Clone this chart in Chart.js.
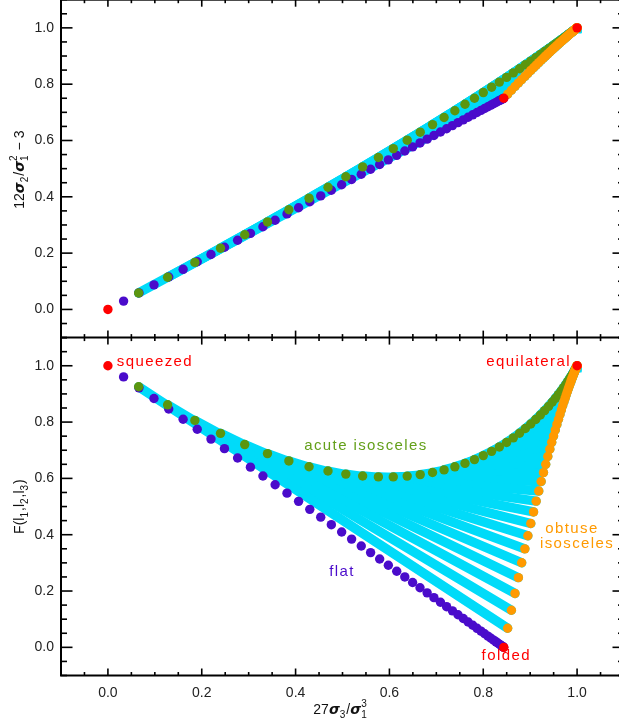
<!DOCTYPE html>
<html><head><meta charset="utf-8">
<script src="https://cdn.jsdelivr.net/npm/chart.js@4.4.1/dist/chart.umd.min.js"></script>
<style>
html,body{margin:0;padding:0;overflow:hidden;background:#fff;width:619px;height:724px}
#wrap{position:absolute;left:0;top:-5px;width:632px;height:730px}
</style>
</head><body><div id="wrap"><canvas id="c" width="632" height="730"></canvas></div>
<script>
// ---- tick labels ----
const xTickLabels = [0.0, 0.2, 0.4, 0.6, 0.8, 1.0];
const yTickLabels = [0.0, 0.2, 0.4, 0.6, 0.8, 1.0];

// ---- flat triangles (purple): x, top-panel y, bottom-panel F ----
const flatX = [0, 0.0334, 0.0662, 0.0982, 0.1296, 0.1603, 0.1904, 0.2197, 0.2484, 0.2764, 0.3038, 0.3304, 0.3564, 0.3817, 0.4064, 0.4303, 0.4536, 0.4762, 0.4982, 0.5194, 0.54, 0.5599, 0.5792, 0.5977, 0.6156, 0.6328, 0.6494, 0.6652, 0.6804, 0.6949, 0.7088, 0.7219, 0.7344, 0.7462, 0.7574, 0.7678, 0.7776, 0.7867, 0.7952, 0.8029, 0.81, 0.8164, 0.8222, 0.8272, 0.8316, 0.8353, 0.8384, 0.8407, 0.8424, 0.8434, 0.8438];
const flatY = [0, 0.0297, 0.0588, 0.0873, 0.1152, 0.1425, 0.1692, 0.1953, 0.2208, 0.2457, 0.27, 0.2937, 0.3168, 0.3393, 0.3612, 0.3825, 0.4032, 0.4233, 0.4428, 0.4617, 0.48, 0.4977, 0.5148, 0.5313, 0.5472, 0.5625, 0.5772, 0.5913, 0.6048, 0.6177, 0.63, 0.6417, 0.6528, 0.6633, 0.6732, 0.6825, 0.6912, 0.6993, 0.7068, 0.7137, 0.72, 0.7257, 0.7308, 0.7353, 0.7392, 0.7425, 0.7452, 0.7473, 0.7488, 0.7497, 0.75];
const flatF = [1, 0.9604, 0.9216, 0.8836, 0.8464, 0.81, 0.7744, 0.7396, 0.7056, 0.6724, 0.64, 0.6084, 0.5776, 0.5476, 0.5184, 0.49, 0.4624, 0.4356, 0.4096, 0.3844, 0.36, 0.3364, 0.3136, 0.2916, 0.2704, 0.25, 0.2304, 0.2116, 0.1936, 0.1764, 0.16, 0.1444, 0.1296, 0.1156, 0.1024, 0.09, 0.0784, 0.0676, 0.0576, 0.0484, 0.04, 0.0324, 0.0256, 0.0196, 0.0144, 0.01, 0.0064, 0.0036, 0.0016, 0.0004, 0];

// ---- acute isosceles (green) ----
const acuteX = [0, 0.0655, 0.1272, 0.1853, 0.24, 0.2916, 0.3401, 0.3857, 0.4287, 0.4691, 0.5071, 0.5429, 0.5765, 0.6082, 0.6379, 0.6657, 0.6919, 0.7165, 0.7395, 0.7611, 0.7813, 0.8001, 0.8178, 0.8343, 0.8497, 0.864, 0.8773, 0.8897, 0.9012, 0.9119, 0.9217, 0.9308, 0.9392, 0.9468, 0.9538, 0.9602, 0.966, 0.9713, 0.976, 0.9802, 0.984, 0.9873, 0.9901, 0.9926, 0.9947, 0.9964, 0.9977, 0.9987, 0.9995, 0.9999, 1];
const acuteY = [0, 0.0585, 0.1142, 0.1671, 0.2175, 0.2653, 0.3108, 0.354, 0.3951, 0.4341, 0.4711, 0.5062, 0.5395, 0.5712, 0.6011, 0.6295, 0.6564, 0.6818, 0.7058, 0.7286, 0.75, 0.7702, 0.7893, 0.8073, 0.8241, 0.84, 0.8549, 0.8688, 0.8818, 0.894, 0.9053, 0.9159, 0.9256, 0.9347, 0.943, 0.9506, 0.9576, 0.964, 0.9698, 0.975, 0.9796, 0.9837, 0.9873, 0.9904, 0.9931, 0.9952, 0.997, 0.9983, 0.9993, 0.9998, 1];
const acuteF = [1, 0.9253, 0.8613, 0.8059, 0.76, 0.7201, 0.688, 0.662, 0.6415, 0.6261, 0.6153, 0.6085, 0.6053, 0.6053, 0.6081, 0.6134, 0.6208, 0.6301, 0.6411, 0.6533, 0.6667, 0.681, 0.6961, 0.7117, 0.7277, 0.744, 0.7603, 0.777, 0.7932, 0.8094, 0.8253, 0.8406, 0.8557, 0.8703, 0.8842, 0.8976, 0.9102, 0.9222, 0.9334, 0.9438, 0.9533, 0.9621, 0.9699, 0.9769, 0.983, 0.9882, 0.9924, 0.9956, 0.998, 0.9995, 1];

// ---- obtuse isosceles (orange) ----
const obtuseX = [0.8438, 0.852, 0.86, 0.8676, 0.8749, 0.8819, 0.8887, 0.8951, 0.9013, 0.9072, 0.9128, 0.9183, 0.9234, 0.9284, 0.9331, 0.9376, 0.9419, 0.9459, 0.9498, 0.9535, 0.957, 0.9604, 0.9635, 0.9665, 0.9693, 0.972, 0.9745, 0.9769, 0.9791, 0.9812, 0.9832, 0.985, 0.9867, 0.9883, 0.9897, 0.9911, 0.9923, 0.9935, 0.9945, 0.9954, 0.9963, 0.997, 0.9977, 0.9982, 0.9987, 0.9991, 0.9994, 0.9997, 0.9999, 1.0, 1];
const obtuseY = [0.75, 0.7646, 0.7786, 0.7918, 0.8044, 0.8163, 0.8277, 0.8385, 0.8488, 0.8585, 0.8678, 0.8766, 0.8849, 0.8928, 0.9003, 0.9074, 0.9141, 0.9205, 0.9265, 0.9321, 0.9375, 0.9426, 0.9473, 0.9518, 0.9561, 0.96, 0.9637, 0.9672, 0.9705, 0.9735, 0.9763, 0.979, 0.9814, 0.9837, 0.9857, 0.9877, 0.9894, 0.991, 0.9924, 0.9937, 0.9949, 0.9959, 0.9968, 0.9976, 0.9983, 0.9988, 0.9992, 0.9996, 0.9998, 1.0, 1];
const obtuseF = [0, 0.0678, 0.1316, 0.1914, 0.2475, 0.3003, 0.3498, 0.3962, 0.4399, 0.4809, 0.5192, 0.5551, 0.5889, 0.6205, 0.65, 0.6778, 0.7038, 0.7281, 0.7507, 0.772, 0.7917, 0.8101, 0.8273, 0.8433, 0.8585, 0.872, 0.8848, 0.8968, 0.9077, 0.9179, 0.9271, 0.9357, 0.9436, 0.9508, 0.9574, 0.9634, 0.9688, 0.9737, 0.9781, 0.9821, 0.9855, 0.9885, 0.991, 0.9933, 0.9952, 0.9967, 0.9979, 0.9988, 0.9995, 0.9999, 1];

// ---- limiting configurations (red): squeezed, folded, equilateral ----
const cornerX = [0, 0.84375, 1];
const cornerY = [0, 0.75, 1];
const cornerF = [1, 0, 1];

// ---- styling ----
const COL = { purple: '#4a0bcb', cyan: '#00dbf9', green: '#5b960f', orange: '#ff9a00', red: '#ff0000' };
const R = 4.7;
const FONT = '"Liberation Sans", Arial, sans-serif';

function pts(xs, ys, from, to) {
  const a = [];
  for (let i = from; i <= to; i++) a.push({ x: xs[i], y: ys[i] });
  return a;
}

const datasets = [];
const panels = [
  { id: 'yTop', fy: flatY, ay: acuteY, oy: obtuseY, cy: cornerY },
  { id: 'yBot', fy: flatF, ay: acuteF, oy: obtuseF, cy: cornerF }
];
for (const p of panels) {
  for (let i = 1; i <= 49; i++) {
    datasets.push({
      yAxisID: p.id, showLine: true, order: 4,
      data: [{ x: acuteX[i], y: p.ay[i] }, { x: obtuseX[i], y: p.oy[i] }],
      borderColor: COL.cyan, borderWidth: 2 * R, borderCapStyle: 'round',
      pointRadius: 0
    });
  }
  const dot = (data, color, order) => ({
    yAxisID: p.id, order, data, showLine: false,
    backgroundColor: color, borderColor: color, pointBackgroundColor: color,
    pointBorderWidth: 0, pointRadius: R
  });
  datasets.push(dot(pts(flatX, p.fy, 1, 49), COL.purple, 3));
  datasets.push(dot(pts(acuteX, p.ay, 1, 49), COL.green, 2));
  datasets.push(dot(pts(obtuseX, p.oy, 1, 49), COL.orange, 1));
  datasets.push(dot(pts(cornerX, p.cy, 0, 2), COL.red, 0));
}

const annotations = [
  { text: 'squeezed', x: 0.019, y: 1.015, color: COL.red, align: 'left' },
  { text: 'equilateral', x: 0.987, y: 1.015, color: COL.red, align: 'right' },
  { text: 'acute isosceles', x: 0.55, y: 0.717, color: '#64a01a', align: 'center' },
  { text: 'flat', x: 0.499, y: 0.267, color: COL.purple, align: 'center' },
  { text: 'obtuse', x: 0.989, y: 0.42, color: COL.orange, align: 'center' },
  { text: 'isosceles', x: 1.0, y: 0.366, color: COL.orange, align: 'center' },
  { text: 'folded', x: 0.849, y: -0.031, color: COL.red, align: 'center' }
];

function drawRich(ctx, parts, cx, cy, rot) {
  const base = '14px ' + FONT, sig = 'italic bold 14px "DejaVu Sans", sans-serif', small = '10px ' + FONT;
  const widths = parts.map(pt => {
    if (pt.stack) { ctx.font = small; return Math.max(ctx.measureText(pt.stack[0]).width, ctx.measureText(pt.stack[1]).width) + 1; }
    ctx.font = pt.k === 'sig' ? sig : (pt.k === 'sub' || pt.k === 'sup') ? small : base;
    return ctx.measureText(pt.t).width + (pt.k === 'sub' ? 1 : 0);
  });
  const total = widths.reduce((a, b) => a + b, 0);
  ctx.save();
  ctx.translate(cx, cy);
  if (rot) ctx.rotate(-Math.PI / 2);
  ctx.textBaseline = 'alphabetic';
  ctx.textAlign = 'left';
  ctx.fillStyle = '#111';
  let x = -total / 2;
  parts.forEach((pt, i) => {
    if (pt.stack) {
      ctx.font = small;
      ctx.fillText(pt.stack[0], x, 4);
      ctx.fillText(pt.stack[1], x, -7);
    } else {
      ctx.font = pt.k === 'sig' ? sig : (pt.k === 'sub' || pt.k === 'sup') ? small : base;
      ctx.fillText(pt.t, x, pt.k === 'sub' ? 4 : pt.k === 'sup' ? -7 : 0);
    }
    x += widths[i];
  });
  ctx.restore();
}

const framePlugin = {
  id: 'frame',
  afterDatasetsDraw(chart) {
    const ctx = chart.ctx, a = chart.chartArea, xs = chart.scales.x;
    const ps = [chart.scales.yTop, chart.scales.yBot];
    ctx.save();
    ctx.strokeStyle = '#000';
    ctx.lineWidth = 1.6;
    const line = (x1, y1, x2, y2) => { ctx.beginPath(); ctx.moveTo(x1, y1); ctx.lineTo(x2, y2); ctx.stroke(); };
    for (const ys of ps) {
      for (let k = -2; k <= 22; k++) {
        const v = k * 0.05, major = (k % 4 === 0);
        const px = xs.getPixelForValue(v);
        const lx = major ? 7 : 3.5;
        line(px, ys.bottom, px, ys.bottom - lx);
        line(px, ys.top, px, ys.top + lx);
        const py = ys.getPixelForValue(v);
        const ly = major ? 11.5 : 6;
        line(a.left, py, a.left + ly, py);
        line(a.right, py, a.right - ly, py);
      }
    }
    ctx.lineWidth = 2;
    ctx.strokeRect(a.left, a.top, a.right - a.left, a.bottom - a.top);
    line(a.left, chart.scales.yTop.bottom, a.right, chart.scales.yTop.bottom);

    // annotations
    const yb = chart.scales.yBot;
    ctx.font = '15px ' + FONT;
    try { ctx.letterSpacing = '1.4px'; } catch (e) {}
    ctx.textBaseline = 'middle';
    for (const an of annotations) {
      ctx.fillStyle = an.color;
      ctx.textAlign = an.align;
      ctx.fillText(an.text, xs.getPixelForValue(an.x), yb.getPixelForValue(an.y));
    }
    try { ctx.letterSpacing = '0px'; } catch (e) {}

    // axis titles
    drawRich(ctx, [{ t: '12' }, { t: 'σ', k: 'sig' }, { t: '2', k: 'sub' }, { t: '/' }, { t: 'σ', k: 'sig' }, { stack: ['1', '2'] }, { t: ' − 3' }],
      24, (chart.scales.yTop.top + chart.scales.yTop.bottom) / 2 + 1, true);
    drawRich(ctx, [{ t: 'F(l' }, { t: '1', k: 'sub' }, { t: ',l' }, { t: '2', k: 'sub' }, { t: ',l' }, { t: '3', k: 'sub' }, { t: ')' }],
      24, (yb.top + yb.bottom) / 2, true);
    drawRich(ctx, [{ t: '27' }, { t: 'σ', k: 'sig' }, { t: '3', k: 'sub' }, { t: '/' }, { t: 'σ', k: 'sig' }, { stack: ['1', '3'] }],
      (a.left + a.right) / 2 - 2, 719, false);
    ctx.restore();
  }
};

const yScale = (extra) => Object.assign({
  type: 'linear', position: 'left', stack: 'panels', stackWeight: 1,
  min: -0.1, max: 1.1,
  grid: { display: false, drawTicks: false }, border: { display: false },
  afterBuildTicks: s => { s.ticks = yTickLabels.map(v => ({ value: v })); },
  afterFit: s => { s.width = 61; s.paddingTop = 0; s.paddingBottom = 0; },
  ticks: { padding: 7, color: '#222', font: { family: FONT, size: 14 }, callback: v => v.toFixed(1) }
}, extra);

new Chart(document.getElementById('c'), {
  type: 'scatter',
  data: { datasets },
  options: {
    responsive: false, devicePixelRatio: 1, animation: false, events: [],
    layout: { padding: { left: 0, right: 8, top: 0, bottom: 0 } },
    plugins: { legend: { display: false }, tooltip: { enabled: false } },
    scales: {
      x: {
        type: 'linear', position: 'bottom', min: -0.1, max: 1.1,
        grid: { display: false, drawTicks: false }, border: { display: false },
        afterBuildTicks: s => { s.ticks = xTickLabels.map(v => ({ value: v })); },
        afterFit: s => { s.height = 49.5; s.paddingLeft = 0; s.paddingRight = 0; },
        ticks: { padding: 9, color: '#222', font: { family: FONT, size: 14 }, maxRotation: 0, callback: v => v.toFixed(1) }
      },
      yBot: yScale({}),
      yTop: yScale({})
    }
  },
  plugins: [framePlugin]
});
</script>
</body></html>
